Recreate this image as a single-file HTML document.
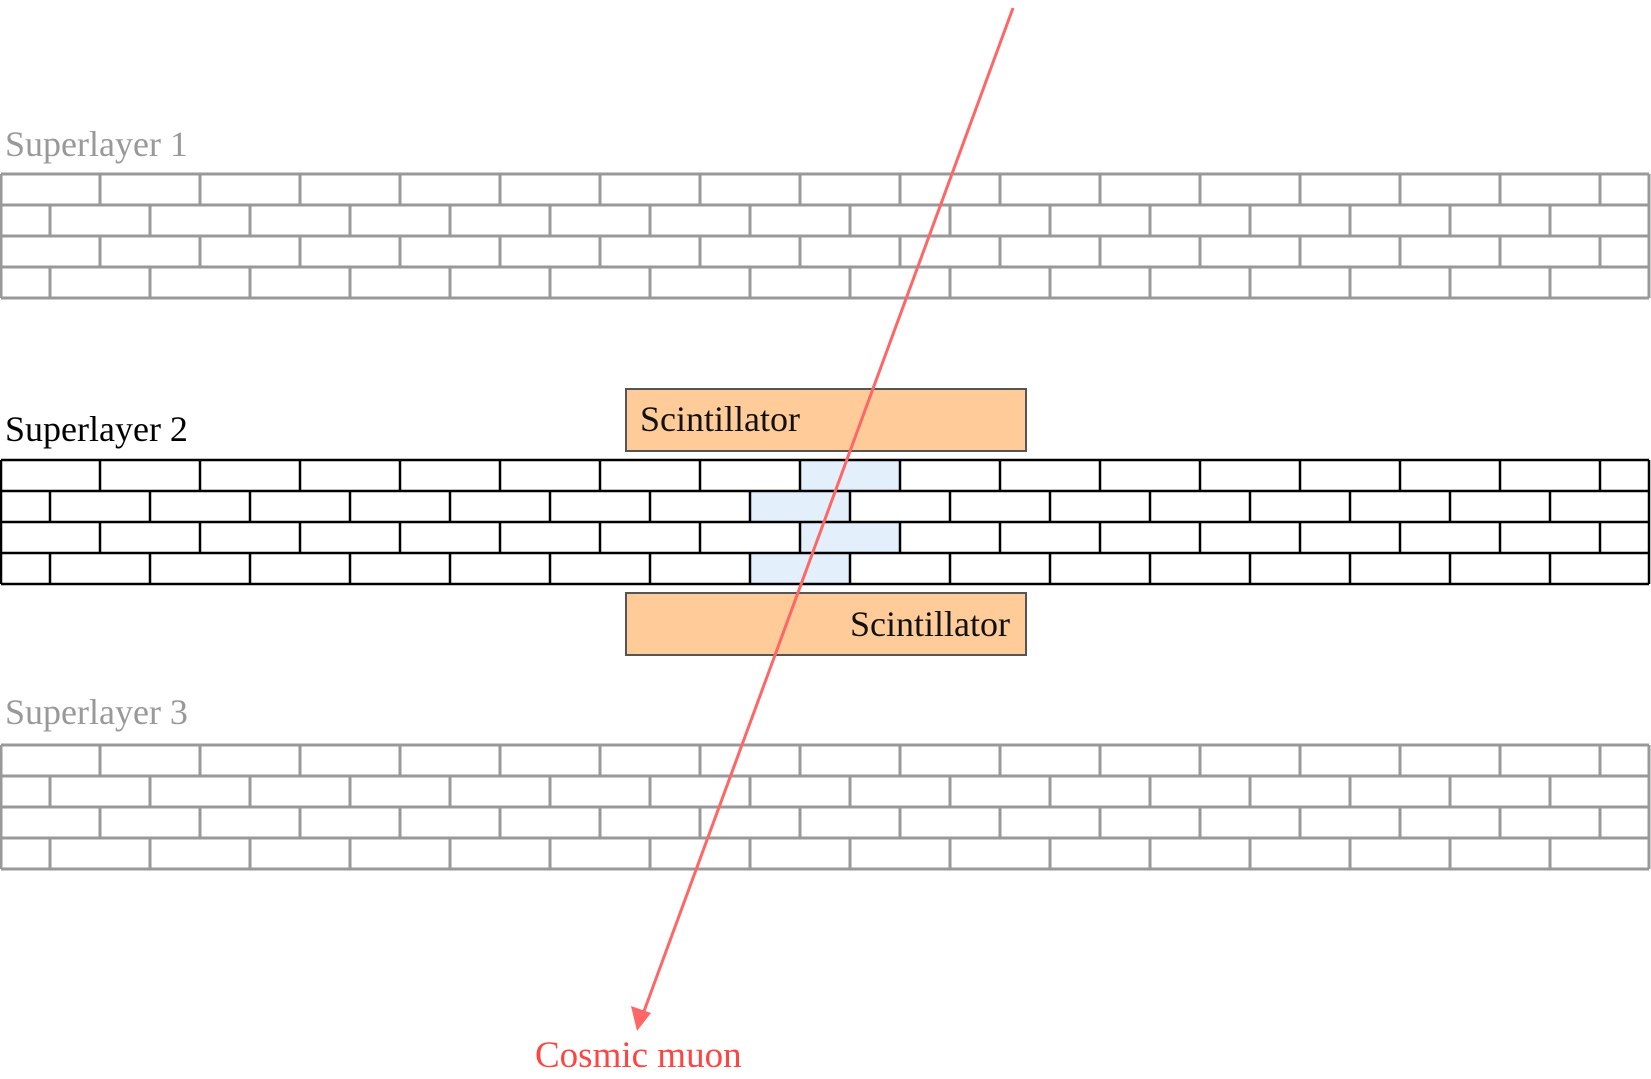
<!DOCTYPE html>
<html><head><meta charset="utf-8"><style>
html,body{margin:0;padding:0;background:#fff;}
svg{display:block;font-family:"Liberation Serif",serif;}
</style></head><body>
<svg id="c" width="1651" height="1079" viewBox="0 0 1651 1079" xmlns="http://www.w3.org/2000/svg">
<g id="layers"></g>
<rect x="626" y="389" width="400" height="62" fill="#ffcc99" stroke="#555" stroke-width="2"/>
<text x="640" y="431" font-size="36" fill="#111">Scintillator</text>
<rect x="626" y="593" width="400" height="62" fill="#ffcc99" stroke="#555" stroke-width="2"/>
<text x="1010" y="636" font-size="36" fill="#111" text-anchor="end">Scintillator</text>
<text x="5" y="156" font-size="36" fill="#999">Superlayer 1</text>
<text x="5" y="441" font-size="36" fill="#000">Superlayer 2</text>
<text x="5" y="724" font-size="36" fill="#999">Superlayer 3</text>
<line x1="1013" y1="8" x2="643" y2="1014" stroke="#ff6666" stroke-width="3"/>
<polygon points="637,1031 631,1006 651,1013" fill="#ff6666"/>
<text x="535" y="1067" font-size="37" fill="#ff4444">Cosmic muon</text>
</svg>
<script>
const layerTops = [174, 460, 745];
const layerColors = ['#999', '#000', '#999'];
const layerWidths = [3, 2.5, 3];
const hitCells = [[0, 8], [1, 7], [2, 8], [3, 7]];
const NS = 'http://www.w3.org/2000/svg';
const g = document.getElementById('layers');
const rowH = 31, brickW = 100, W = 1649, X0 = 1;
function mk(tag, attrs) { const e = document.createElementNS(NS, tag); for (const k in attrs) e.setAttribute(k, attrs[k]); return e; }
layerTops.forEach((top, li) => {
  const col = layerColors[li], sw = layerWidths[li];
  const grp = mk('g', {});
  
  
  if (li === 1) {
    hitCells.forEach(([r, k]) => {
      const off = r % 2 ? 50 : 0;
      const c = mk('rect', { x: off + k * brickW, y: top + r * rowH, width: brickW, height: rowH, fill: '#e3f0fc' });
      
      
      grp.appendChild(c);
    });
  }
  for (let r = 0; r <= 4; r++) {
    grp.appendChild(mk('line', { x1: X0, x2: W, y1: top + r * rowH, y2: top + r * rowH, stroke: col, 'stroke-width': sw }));
  }
  for (let r = 0; r < 4; r++) {
    const off = r % 2 ? 50 : 0;
    for (let x = off + brickW; x < W; x += brickW) {
      grp.appendChild(mk('line', { x1: x, x2: x, y1: top + r * rowH, y2: top + (r + 1) * rowH, stroke: col, 'stroke-width': sw }));
    }
    if (off) grp.appendChild(mk('line', { x1: 50, x2: 50, y1: top + r * rowH, y2: top + (r + 1) * rowH, stroke: col, 'stroke-width': sw }));
  }
  grp.appendChild(mk('line', { x1: X0, x2: X0, y1: top, y2: top + 4 * rowH, stroke: col, 'stroke-width': sw }));
  grp.appendChild(mk('line', { x1: W, x2: W, y1: top, y2: top + 4 * rowH, stroke: col, 'stroke-width': sw }));
  g.appendChild(grp);
});
</script>
</body></html>
